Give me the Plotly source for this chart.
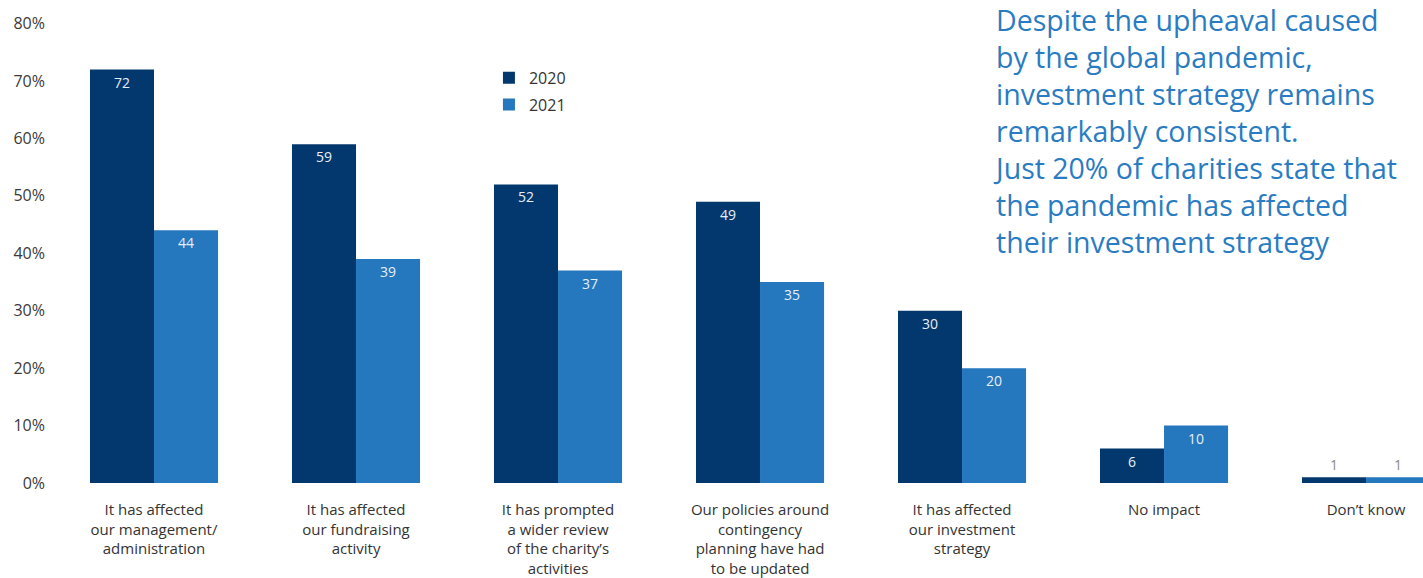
import plotly.graph_objects as go

# Survey responses: effect of the pandemic on the charity (% of respondents)
categories = [
    "It has affected<br>our management/<br>administration",
    "It has affected<br>our fundraising<br>activity",
    "It has prompted<br>a wider review<br>of the charity’s<br>activities",
    "Our policies around<br>contingency<br>planning have had<br>to be updated",
    "It has affected<br>our investment<br>strategy",
    "No impact",
    "Don’t know",
]
values_2020 = [72, 59, 52, 49, 30, 6, 1]
values_2021 = [44, 39, 37, 35, 20, 10, 1]
y_ticks = [0, 10, 20, 30, 40, 50, 60, 70, 80]
y_tick_labels = ["0%", "10%", "20%", "30%", "40%", "50%", "60%", "70%", "80%"]

DARK = "#03386f"
LIGHT = "#2577be"
FONT = "Open Sans"


def label_positions(vals):
    return ["outside" if v < 3 else "inside" for v in vals]


series = [
    ("2020", values_2020, DARK, "legend", 0.89),
    ("2021", values_2021, LIGHT, "legend2", 0.832),
]

fig = go.Figure()
for name, vals, color, legend_id, _ in series:
    fig.add_trace(go.Bar(
        name=name,
        x=list(range(len(categories))),
        y=vals,
        marker=dict(color=color, line=dict(width=0)),
        text=[str(v) for v in vals],
        texttemplate="%{text}",
        textposition=label_positions(vals),
        insidetextanchor="end",
        insidetextfont=dict(color="#e8eef6", size=14, family=FONT),
        outsidetextfont=dict(color="#8a8a8a", size=14, family=FONT),
        constraintext="none",
        cliponaxis=False,
        legend=legend_id,
    ))

legend_style = dict(
    x=0.3197, xanchor="left", yanchor="middle",
    font=dict(size=16, family=FONT, color="#333333"),
    bgcolor="rgba(0,0,0,0)", itemwidth=30,
)

fig.update_layout(
    width=1423, height=578,
    margin=dict(l=50, r=0, t=15, b=93),
    paper_bgcolor="white", plot_bgcolor="white",
    barmode="group", bargap=0.366, bargroupgap=0,
    font=dict(family=FONT, color="#3a3a3a", size=15),
    showlegend=True,
    legend=dict(y=(485 - 78) / 470, **legend_style),
    legend2=dict(y=(485 - 105) / 470, **legend_style),
    xaxis=dict(
        range=[-0.5149, 6.282],
        tickmode="array", tickvals=list(range(len(categories))), ticktext=categories,
        showgrid=False, zeroline=False, showline=False, ticks="",
        tickfont=dict(size=15, color="#333333"), ticklabelstandoff=16,
    ),
    yaxis=dict(
        range=[0, 81.5],
        tickmode="array", tickvals=y_ticks, ticktext=y_tick_labels,
        showgrid=False, zeroline=False, showline=False, ticks="",
        tickfont=dict(size=16, color="#3a3a3a"), ticklabelstandoff=4,
    ),
    annotations=[dict(
        xref="paper", yref="paper", x=0.6855, y=1.035,
        xanchor="left", yanchor="top", align="left", showarrow=False,
        text=("Despite the upheaval caused<br>by the global pandemic,<br>"
              "investment strategy remains<br>remarkably consistent.<br>"
              "Just 20% of charities state that<br>the pandemic has affected<br>"
              "their investment strategy"),
        font=dict(size=28.5, color="#2a7cc2", family=FONT),
    )],
)

fig.write_html("out.html")
